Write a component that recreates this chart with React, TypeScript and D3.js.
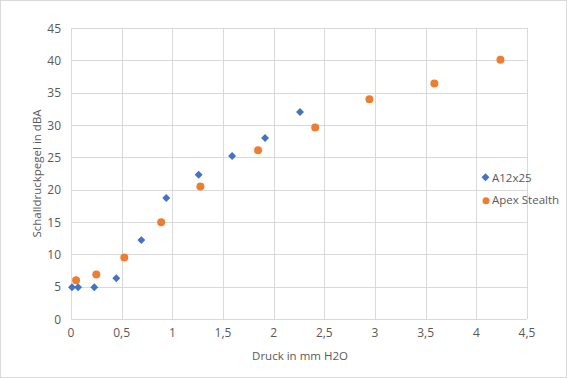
import React from "react";
import * as d3 from "d3";

const a12x25X = [0.01, 0.07, 0.23, 0.447, 0.694, 0.94, 1.26, 1.59, 1.915, 2.26];
const a12x25Y = [4.9, 4.9, 4.9, 6.3, 12.2, 18.7, 22.3, 25.2, 28.0, 32.0];
const apexX = [0.05, 0.25, 0.526, 0.89, 1.277, 1.846, 2.41, 2.945, 3.586, 4.238];
const apexY = [6.0, 6.9, 9.5, 14.95, 20.5, 26.1, 29.6, 34.0, 36.4, 40.1];
const xTicks = [0, 0.5, 1, 1.5, 2, 2.5, 3, 3.5, 4, 4.5];
const yTicks = [0, 5, 10, 15, 20, 25, 30, 35, 40, 45];
const seriesNames = ["A12x25", "Apex Stealth"];
const xTitle = "Druck in mm H2O";
const yTitle = "Schalldruckpegel in dBA";

const W = 567, H = 378;
const BLUE = "#4472C4", ORANGE = "#ED7D31";
const FONT = "'Open Sans', 'Segoe UI', sans-serif";
const TXT = "#595959";
const FS = 11.5;

export default function App() {
  const x = d3.scaleLinear().domain([0, 4.5]).range([71, 527]);
  const y = d3.scaleLinear().domain([0, 45]).range([319, 28]);
  const fmt = (v: number) => String(v).replace(".", ",");
  const diamond = d3.symbol().type(d3.symbolDiamond2).size(40)();
  const a12 = a12x25X.map((v, i) => [v, a12x25Y[i]]);
  const apex = apexX.map((v, i) => [v, apexY[i]]);
  return (
    <svg width={W} height={H} style={{ position: "absolute", left: 0, top: 0, fontFamily: FONT }}>
      <rect x={0.5} y={0.5} width={W - 1} height={H - 1} fill="#fff" stroke="#d9d9d9" />
      {xTicks.map((t) => (
        <line key={"gx" + t} x1={Math.round(x(t)) + 0.5} x2={Math.round(x(t)) + 0.5} y1={y(45)} y2={y(0)} stroke="#d9d9d9" />
      ))}
      {yTicks.map((t) => (
        <line key={"gy" + t} x1={x(0)} x2={x(4.5)} y1={Math.round(y(t)) + 0.5} y2={Math.round(y(t)) + 0.5} stroke="#d9d9d9" />
      ))}
      {xTicks.map((t) => (
        <text key={"tx" + t} x={x(t)} y={337} textAnchor="middle" fontSize={12} fill={TXT}>{fmt(t)}</text>
      ))}
      {yTicks.map((t) => (
        <text key={"ty" + t} x={61} y={y(t) + 4.5} textAnchor="end" fontSize={12} fill={TXT}>{fmt(t)}</text>
      ))}
      <text x={300} y={360} textAnchor="middle" fontSize={FS} fill={TXT}>{xTitle}</text>
      <text transform={`translate(41,173.5) rotate(-90)`} textAnchor="middle" fontSize={FS} fill={TXT}>{yTitle}</text>
      {a12.map((d, i) => (
        <path key={"a" + i} d={diamond!} transform={`translate(${x(d[0])},${y(d[1])})`} fill={BLUE} />
      ))}
      {apex.map((d, i) => (
        <circle key={"o" + i} cx={x(d[0])} cy={y(d[1])} r={4} fill={ORANGE} />
      ))}
      <path d={diamond!} transform="translate(485.5,177.3)" fill={BLUE} />
      <text x={492} y={181.5} fontSize={FS} fill={TXT}>{seriesNames[0]}</text>
      <circle cx={486} cy={200.7} r={3.5} fill={ORANGE} />
      <text x={492} y={204} fontSize={FS} fill={TXT}>{seriesNames[1]}</text>
    </svg>
  );
}
